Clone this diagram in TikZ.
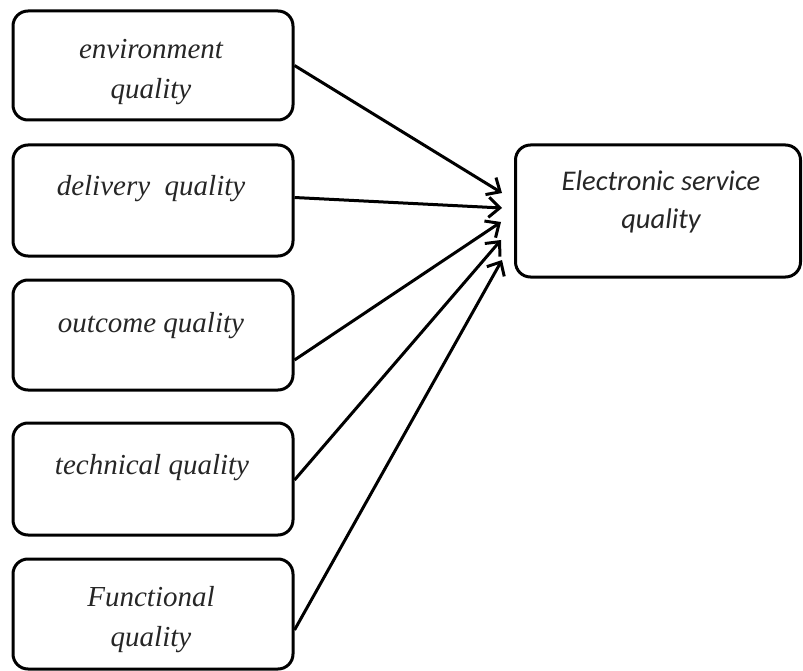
\documentclass[tikz,border=0pt]{standalone}
\usepackage{fontspec}
\setmainfont{Liberation Serif}
\newfontfamily\calib{Carlito}
\usetikzlibrary{arrows.meta,calc}
\begin{document}
\begin{tikzpicture}[x=1pt,y=-1pt,
  box/.style={draw=black,line width=3pt,rounded corners=15pt,minimum width=280pt,inner sep=0pt},
  lbl/.style={font=\fontsize{29}{40}\selectfont\itshape,text=black!85,align=center,inner sep=0pt},
  rlbl/.style={font=\calib\fontsize{28.5}{38}\selectfont\itshape,text=black!85,align=center,inner sep=0pt},
  conn/.style={line width=3pt,-{Straight Barb[length=11pt,width=20pt,line width=3pt]}}]
\useasboundingbox (0,0) rectangle (803,671);
\node[box,minimum height=109pt] (b1) at (153,65.5) {};
\node[box,minimum height=111pt] (b2) at (153,200.5) {};
\node[box,minimum height=110pt] (b3) at (153,335) {};
\node[box,minimum height=112pt] (b4) at (153,479) {};
\node[box,minimum height=110pt] (b5) at (153,614) {};
\node[box,minimum width=285pt,minimum height=132pt] (e) at (658,211) {};
\node[lbl] (t1) at (151,72) {environment\\quality};
\node[lbl] (t2) at (151,189) {delivery\ \ quality};
\node[lbl] (t3) at (151,326) {outcome quality};
\node[lbl] (t4) at (152,468) {technical quality};
\node[lbl] (t5) at (151,620) {Functional\\quality};
\node[rlbl] (te) at (661,202) {Electronic service\\quality};
\draw[conn] (b1.east) -- ([xshift=-12pt,yshift=18pt]e.west);
\draw[conn] ([yshift=3pt]b2.east) -- ([xshift=-12pt,yshift=3pt]e.west);
\draw[conn] ([yshift=-25pt]b3.east) -- ([xshift=-13pt,yshift=-11pt]e.west);
\draw[conn] ([yshift=-1pt]b4.east) -- ([xshift=-13pt,yshift=-29pt]e.west);
\draw[conn] ([yshift=-16pt]b5.east) -- ([xshift=-12pt,yshift=-49pt]e.west);
\end{tikzpicture}
\end{document}
